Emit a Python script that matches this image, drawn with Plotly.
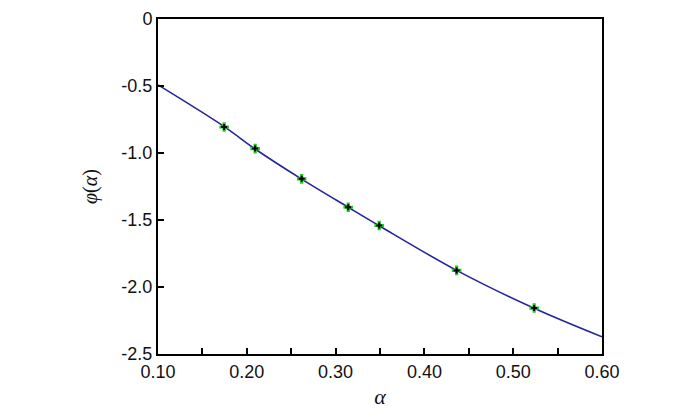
import plotly.graph_objects as go

# data
alpha_pts = [0.1745, 0.2094, 0.2618, 0.3142, 0.3491, 0.4363, 0.5236]
phi_pts = [-0.806, -0.967, -1.193, -1.405, -1.541, -1.876, -2.157]

alpha_curve = [0.10, 0.1745, 0.2094, 0.2618, 0.3142, 0.3491, 0.4363, 0.5236, 0.60]
phi_curve = [-0.492, -0.803, -0.970, -1.195, -1.405, -1.543, -1.876, -2.159, -2.372]

x_tickvals = [0.1, 0.2, 0.3, 0.4, 0.5, 0.6]
x_ticktext = ["0.10", "0.20", "0.30", "0.40", "0.50", "0.60"]
y_tickvals = [0, -0.5, -1.0, -1.5, -2.0, -2.5]
y_ticktext = ["0", "-0.5", "-1.0", "-1.5", "-2.0", "-2.5"]

fig = go.Figure()
fig.add_trace(go.Scatter(x=alpha_curve, y=phi_curve, mode="lines",
                         line=dict(color="#25259a", width=1.6, shape="spline", smoothing=1.0),
                         showlegend=False, hoverinfo="skip"))
fig.add_trace(go.Scatter(x=alpha_pts, y=phi_pts, mode="markers",
                         marker=dict(symbol="cross", size=8, color="#22cc22"),
                         showlegend=False))
fig.add_trace(go.Scatter(x=alpha_pts, y=phi_pts, mode="markers",
                         marker=dict(symbol="cross", size=5, color="#000000"),
                         showlegend=False))

tickfont = dict(family="Liberation Sans Narrow, Liberation Sans, Arial", size=18, color="#111")

fig.update_layout(
    width=700, height=415,
    margin=dict(l=150, r=106, t=11, b=69),
    paper_bgcolor="white", plot_bgcolor="white",
    xaxis=dict(range=[0.1, 0.6], tickvals=x_tickvals, ticktext=x_ticktext, automargin=False,
               ticklabeloverflow="allow",
               ticks="inside", ticklen=6, tickwidth=1.5, tickcolor="black",
               minor=dict(dtick=0.05, tick0=0.1, ticks="inside", ticklen=6, tickwidth=1.5, tickcolor="black"),
               showline=True, linecolor="black", linewidth=2, mirror=True,
               showgrid=False, zeroline=False, tickfont=tickfont,
               title=dict(text="<i>α</i>", font=dict(family="Liberation Serif, Times New Roman", size=22, color="#111"), standoff=8)),
    yaxis=dict(range=[-2.5, 0], tickvals=y_tickvals, ticktext=y_ticktext, automargin=False,
               ticklabeloverflow="allow",
               ticks="inside", ticklen=6, tickwidth=1.5, tickcolor="black",
               showline=True, linecolor="black", linewidth=2, mirror=True,
               showgrid=False, zeroline=False, tickfont=tickfont,
               title=dict(text="<i>φ</i>(<i>α</i>)", font=dict(family="Liberation Serif, Times New Roman", size=20, color="#111"), standoff=18)),
)

fig.write_html("out.html")
